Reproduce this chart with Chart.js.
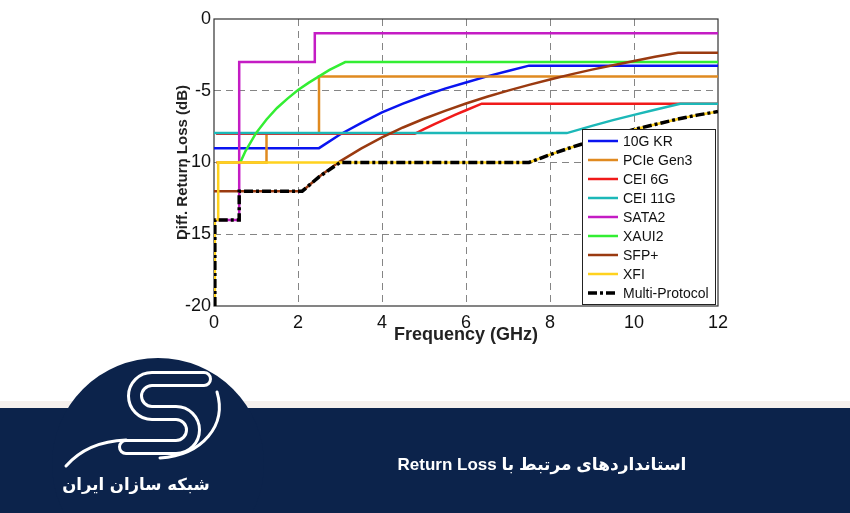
<!DOCTYPE html>
<html>
<head>
<meta charset="utf-8">
<script src="https://cdn.jsdelivr.net/npm/chart.js@4/dist/chart.umd.min.js"></script>
<style>
  body { margin: 0; width: 850px; height: 513px; position: relative; overflow: hidden; background: #fff; }
  #wrap { position: absolute; left: 0; top: 0; width: 850px; height: 400px; }
  .strip { position: absolute; left: 0; top: 401px; width: 850px; height: 7px; background: #f5f0ed; }
  .band { position: absolute; left: 0; top: 408px; width: 850px; height: 105px; background: #0c234b; }
  #logo { position: absolute; left: 0; top: 0; }
  .brand { position: absolute; left: 40px; top: 472px; width: 192px; text-align: center; color: #fff;
    font: bold 16.5px "DejaVu Sans", sans-serif; line-height: 26px; direction: rtl; }
  .title { position: absolute; left: 342px; top: 454px; width: 400px; text-align: center; color: #fff;
    font: bold 17px "Liberation Sans", "DejaVu Sans", sans-serif; line-height: 22px; direction: rtl; }
</style>
</head>
<body>
<div id="wrap"><canvas id="chart" width="850" height="400"></canvas></div>
<div class="strip"></div>
<div class="band"></div>
<svg id="logo" width="850" height="513">
  <circle cx="158" cy="464" r="106" fill="#0c234b"/>
  <path d="M204,379 H152 A17,17 0 0 0 152,413 H176 A17,17 0 0 1 176,447 H126" fill="none" stroke="#fff" stroke-width="16" stroke-linecap="round"/>
  <path d="M204,379 H152 A17,17 0 0 0 152,413 H176 A17,17 0 0 1 176,447 H126" fill="none" stroke="#0c234b" stroke-width="10" stroke-linecap="round"/>
  <path d="M66,466 C80,450 100,441 126,440" fill="none" stroke="#fff" stroke-width="3" stroke-linecap="round"/>
  <path d="M217,392 C227,425 203,455 160,458" fill="none" stroke="#fff" stroke-width="3" stroke-linecap="round"/>
</svg>
<div class="brand">شبکه سازان ایران</div>
<div class="title">استانداردهای مرتبط با Return Loss</div>
<script>
var SERIES_NAMES = ['10G KR', 'PCIe Gen3', 'CEI 6G', 'CEI 11G', 'SATA2', 'XAUI2', 'SFP+', 'XFI', 'Multi-Protocol'];
var LINE_COLORS = ['#0a14f0', '#e08a20', '#f01a1a', '#1cb8b8', '#c41cc4', '#33ee33', '#9a3a10', '#ffd21e', '#000000'];
var X_TICKS = [0, 2, 4, 6, 8, 10, 12];
var Y_TICKS = [-20, -15, -10, -5, 0];

// frequency (GHz) / differential return loss (dB)
var kr_f = [0, 2.5, 3, 3.5, 4, 4.5, 5, 5.5, 6, 6.5, 7, 7.5, 12];
var kr_db = [-9, -9, -8.05, -7.25, -6.5, -5.9, -5.35, -4.85, -4.42, -4.0, -3.62, -3.25, -3.25];
var pcie_f = [0.05, 1.25, 1.25, 2.5, 2.5, 12];
var pcie_db = [-10, -10, -8, -8, -4, -4];
var cei6_f = [0.05, 4.78, 5, 5.25, 5.5, 5.75, 6, 6.375, 12];
var cei6_db = [-8, -8, -7.68, -7.32, -6.99, -6.67, -6.36, -5.9, -5.9];
var cei11_f = [0, 8.4, 9, 9.5, 10, 10.5, 11.1, 12];
var cei11_db = [-7.95, -7.95, -7.45, -7.05, -6.68, -6.33, -5.9, -5.9];
var sata_f = [0.03, 0.6, 0.6, 2.4, 2.4, 12];
var sata_db = [-14, -14, -3, -3, -1, -1];
var xaui_f = [0.625, 0.75, 1, 1.25, 1.5, 1.75, 2, 2.25, 2.5, 2.75, 3.125, 12];
var xaui_db = [-10, -9.2, -7.95, -7, -6.2, -5.55, -4.95, -4.45, -4, -3.55, -3, -3];
var sfp_f = [0, 2.1, 2.5, 3, 3.5, 4, 4.5, 5, 5.5, 6, 6.5, 7, 7.5, 8, 8.5, 9, 9.5, 10, 10.5, 11.05, 12];
var sfp_db = [-12, -12, -11, -9.92, -9.03, -8.25, -7.56, -6.95, -6.4, -5.89, -5.42, -4.99, -4.59, -4.22, -3.86, -3.53, -3.22, -2.92, -2.63, -2.35, -2.35];
var xfi_f = [0.02, 0.02, 0.1, 0.1, 7.5, 8, 8.5, 9, 9.5, 10, 10.5, 11, 11.5, 12];
var xfi_db = [-20, -14, -14, -10, -10, -9.45, -8.95, -8.5, -8.1, -7.7, -7.35, -7, -6.7, -6.45];
var multi_f = [0.02, 0.02, 0.6, 0.6, 2.1, 2.5, 3, 7.5, 8, 8.5, 9, 9.5, 10, 10.5, 11, 11.5, 12];
var multi_db = [-20, -14, -14, -12, -12, -11, -10, -10, -9.45, -8.95, -8.5, -8.1, -7.7, -7.35, -7, -6.7, -6.45];

var SERIES_F = [kr_f, pcie_f, cei6_f, cei11_f, sata_f, xaui_f, sfp_f, xfi_f, multi_f];
var SERIES_DB = [kr_db, pcie_db, cei6_db, cei11_db, sata_db, xaui_db, sfp_db, xfi_db, multi_db];

var FONT = '"Liberation Sans", Arial, sans-serif';
var DASH_DOT = [9, 3, 3, 3];

function isMulti(i) {
  return i === SERIES_NAMES.length - 1
}

function buildDatasets () {
  return SERIES_NAMES.map(function (name, i) {
    return {
      label: name,
      data: SERIES_F[i].map(function (f, j) { return { x: f, y: SERIES_DB[i][j] }; }),
      borderColor: LINE_COLORS[i],
      borderWidth: isMulti(i) ? 3.5 : 2.5,
      borderDash: isMulti(i) ? DASH_DOT : [],
      pointRadius: 0,
      tension: 0,
      fill: false,
      // later series sit on top, like the original plot
      order: SERIES_NAMES.length - 1 - i
    }
  })
}

function gridColor (lo, hi) {
  return function (ctx) {
    var v = ctx.tick ? ctx.tick.value : null;
    return (v === lo || v === hi) ? 'rgba(0,0,0,0)' : '#858585';
  }
}

var frameBox = {
  id: 'frameBox',
  beforeDatasetsDraw (chart) {
    var a = chart.chartArea, ctx = chart.ctx;
    ctx.save();
    ctx.strokeStyle = '#333';
    ctx.lineWidth = 1.2;
    ctx.strokeRect(a.left, a.top, a.right - a.left, a.bottom - a.top);
    ctx.restore();
  }
}

var legendBox = {
  id: 'legendBox',
  afterDatasetsDraw (chart) {
    var a = chart.chartArea, ctx = chart.ctx;
    var w = 133, h = 175;
    var left = a.right - 3 - w, top = a.bottom - 2 - h;
    ctx.save();
    ctx.fillStyle = '#fff';
    ctx.fillRect(left, top, w, h);
    ctx.strokeStyle = '#222';
    ctx.lineWidth = 1;
    ctx.strokeRect(left + 0.5, top + 0.5, w, h);
    ctx.font = '14px ' + FONT;
    ctx.textBaseline = 'middle';
    SERIES_NAMES.forEach(function (name, i) {
      var y = top + 12 + i * 19;
      ctx.beginPath();
      ctx.setLineDash(isMulti(i) ? DASH_DOT : []);
      ctx.strokeStyle = LINE_COLORS[i];
      ctx.lineWidth = isMulti(i) ? 3.5 : 2.5;
      ctx.moveTo(left + 6, y);
      ctx.lineTo(left + 36, y);
      ctx.stroke();
      ctx.setLineDash([]);
      ctx.fillStyle = '#111';
      ctx.fillText(name, left + 41, y + 1);
    });
    ctx.restore();
  }
}

new Chart(document.getElementById('chart').getContext('2d'), {
  type: 'line',
  data: { datasets: buildDatasets() },
  options: {
    responsive: false,
    animation: false,
    layout: { padding: { top: 19, right: 132, bottom: 54, left: 174 } },
    plugins: { legend: { display: false }, tooltip: { enabled: false } },
    scales: {
      x: {
        type: 'linear', min: 0, max: 12,
        afterBuildTicks: function (s) { s.ticks = X_TICKS.map(function (v) { return { value: v }; }); },
        afterFit: function (s) { s.height = 40; },
        grid: { color: gridColor(0, 12), lineWidth: 1, drawTicks: false },
        border: { display: false, dash: [7, 5] },
        ticks: { color: '#111', padding: 6, maxRotation: 0, font: { family: FONT, size: 18 } },
        title: { display: true, text: 'Frequency (GHz)', color: '#222', padding: 0,
          font: { family: FONT, size: 18, weight: 'bold' } }
      },
      y: {
        min: -20, max: 0,
        afterBuildTicks: function (s) { s.ticks = Y_TICKS.map(function (v) { return { value: v }; }); },
        afterFit: function (s) { s.width = 40; },
        grid: { color: gridColor(-20, 0), lineWidth: 1, drawTicks: false },
        border: { display: false, dash: [7, 5] },
        ticks: { color: '#111', padding: 3, font: { family: FONT, size: 18 } },
        title: { display: true, text: 'Diff. Return Loss (dB)', color: '#222', padding: 0,
          font: { family: FONT, size: 15, weight: 'bold' } }
      }
    }
  },
  plugins: [frameBox, legendBox]
});
</script>
</body>
</html>
